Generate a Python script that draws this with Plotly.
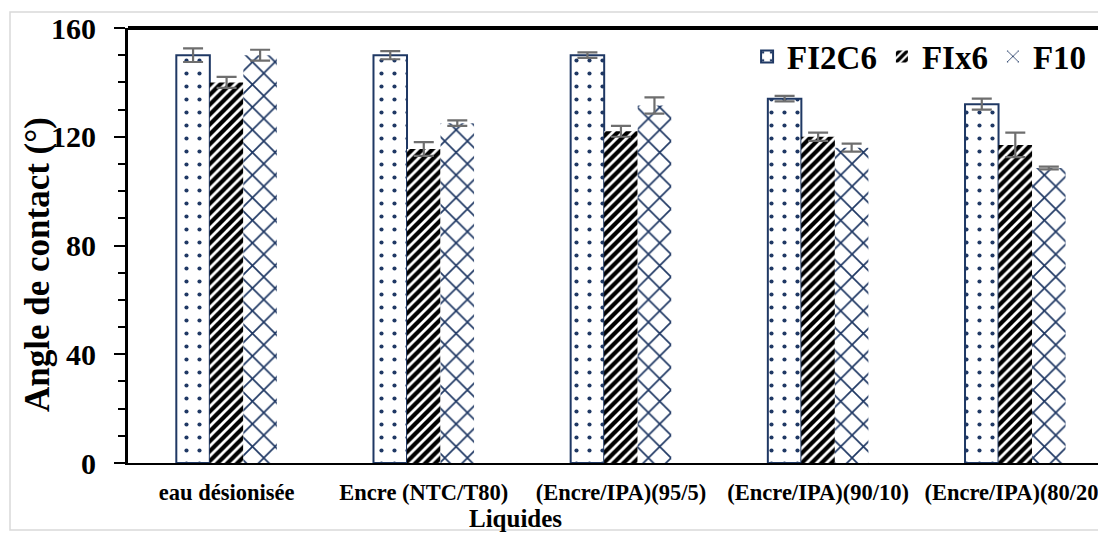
import plotly.graph_objects as go

categories = ["eau désionisée", "Encre (NTC/T80)", "(Encre/IPA)(95/5)", "(Encre/IPA)(90/10)", "(Encre/IPA)(80/20)"]
fi2c6 = [150, 150, 150, 134, 132]
fi2c6_err = [2.5, 1.5, 1, 1, 2]
fix6 = [140, 115.5, 122, 120, 117]
fix6_err = [2, 2.5, 2, 1.5, 4.5]
f10 = [150, 125, 131.5, 116, 108.5]
f10_err = [2, 1, 3, 1.5, 0.5]
y_ticks = [0, 40, 80, 120, 160]

navy = "#1F3864"
err_style = dict(type="data", visible=True, color="#6E6E6E", thickness=2.2, width=10)

fig = go.Figure()
fig.add_trace(go.Bar(
    name="FI2C6", x=categories, y=fi2c6,
    error_y=dict(array=fi2c6_err, **err_style),
    marker=dict(color="white", line=dict(color=navy, width=2),
                pattern=dict(shape=".", fgcolor=navy, bgcolor="white", fgopacity=1,
                             fillmode="replace", size=13, solidity=0.08)),
))
fig.add_trace(go.Bar(
    name="FIx6", x=categories, y=fix6,
    error_y=dict(array=fix6_err, **err_style),
    marker=dict(color="white", line=dict(color="black", width=0),
                pattern=dict(shape="/", fgcolor="black", bgcolor="white", fgopacity=1,
                             fillmode="replace", size=7, solidity=0.6)),
))
fig.add_trace(go.Bar(
    name="F10", x=categories, y=f10,
    error_y=dict(array=f10_err, **err_style),
    marker=dict(color="white", line=dict(color="white", width=0),
                pattern=dict(shape="x", fgcolor=navy, bgcolor="white", fgopacity=1,
                             fillmode="replace", size=16, solidity=0.2)),
))

serif = "Liberation Serif, Times New Roman, serif"
fig.update_layout(
    width=1098, height=525,
    margin=dict(l=120, r=0, t=20, b=70),
    paper_bgcolor="white", plot_bgcolor="white",
    barmode="group", bargap=0.49, bargroupgap=0,
    font=dict(family=serif, color="black"),
    showlegend=True,
    legend=dict(orientation="h", x=0.633, y=0.999, xanchor="left", yanchor="top",
                font=dict(family=serif, size=33, color="black", weight="bold"),
                bgcolor="rgba(0,0,0,0)", itemwidth=30, tracegroupgap=0),
    xaxis=dict(range=[-0.5, 4.46], showgrid=False, zeroline=False,
               showline=True, linecolor="black", linewidth=2,
               tickfont=dict(family=serif, size=22.5, color="black", weight="bold"),
               ticks="", ticklabelstandoff=8),
    yaxis=dict(range=[0, 160], tickvals=y_ticks, showgrid=False, zeroline=False,
               showline=True, linecolor="black", linewidth=3,
               ticks="outside", ticklen=11, tickwidth=2, tickcolor="black",
               minor=dict(dtick=10, ticks="outside", ticklen=7, tickwidth=2, tickcolor="black"),
               tickfont=dict(family=serif, size=30, color="black", weight="bold"),
               ticklabelstandoff=12),
    annotations=[
        dict(text="<b>Angle de contact (°)</b>", xref="paper", yref="paper",
             x=-91/978, y=(463 - 265) / 435, xanchor="center", yanchor="middle",
             textangle=-90, showarrow=False,
             font=dict(family=serif, size=35, color="black")),
        dict(text="<b>Liquides</b>", xref="paper", yref="paper",
             x=(507 - 120) / 978, y=-(518 - 463) / 435, xanchor="center", yanchor="middle",
             showarrow=False, font=dict(family=serif, size=25, color="black")),
    ],
    shapes=[
        dict(type="line", xref="paper", yref="paper", x0=0, x1=1, y0=1, y1=1,
             line=dict(color="black", width=4)),
        dict(type="line", xref="paper", yref="y", x0=0, x1=1, y0=-0.9, y1=-0.9,
             line=dict(color="#A6A6A6", width=2), layer="above"),
        dict(type="rect", xref="paper", yref="paper",
             x0=-118/978, x1=1.01, y0=-67/435, y1=1 + 16/435,
             line=dict(color="#D9D9D9", width=1.5), layer="below"),
    ],
)

fig.write_html("out.html")
